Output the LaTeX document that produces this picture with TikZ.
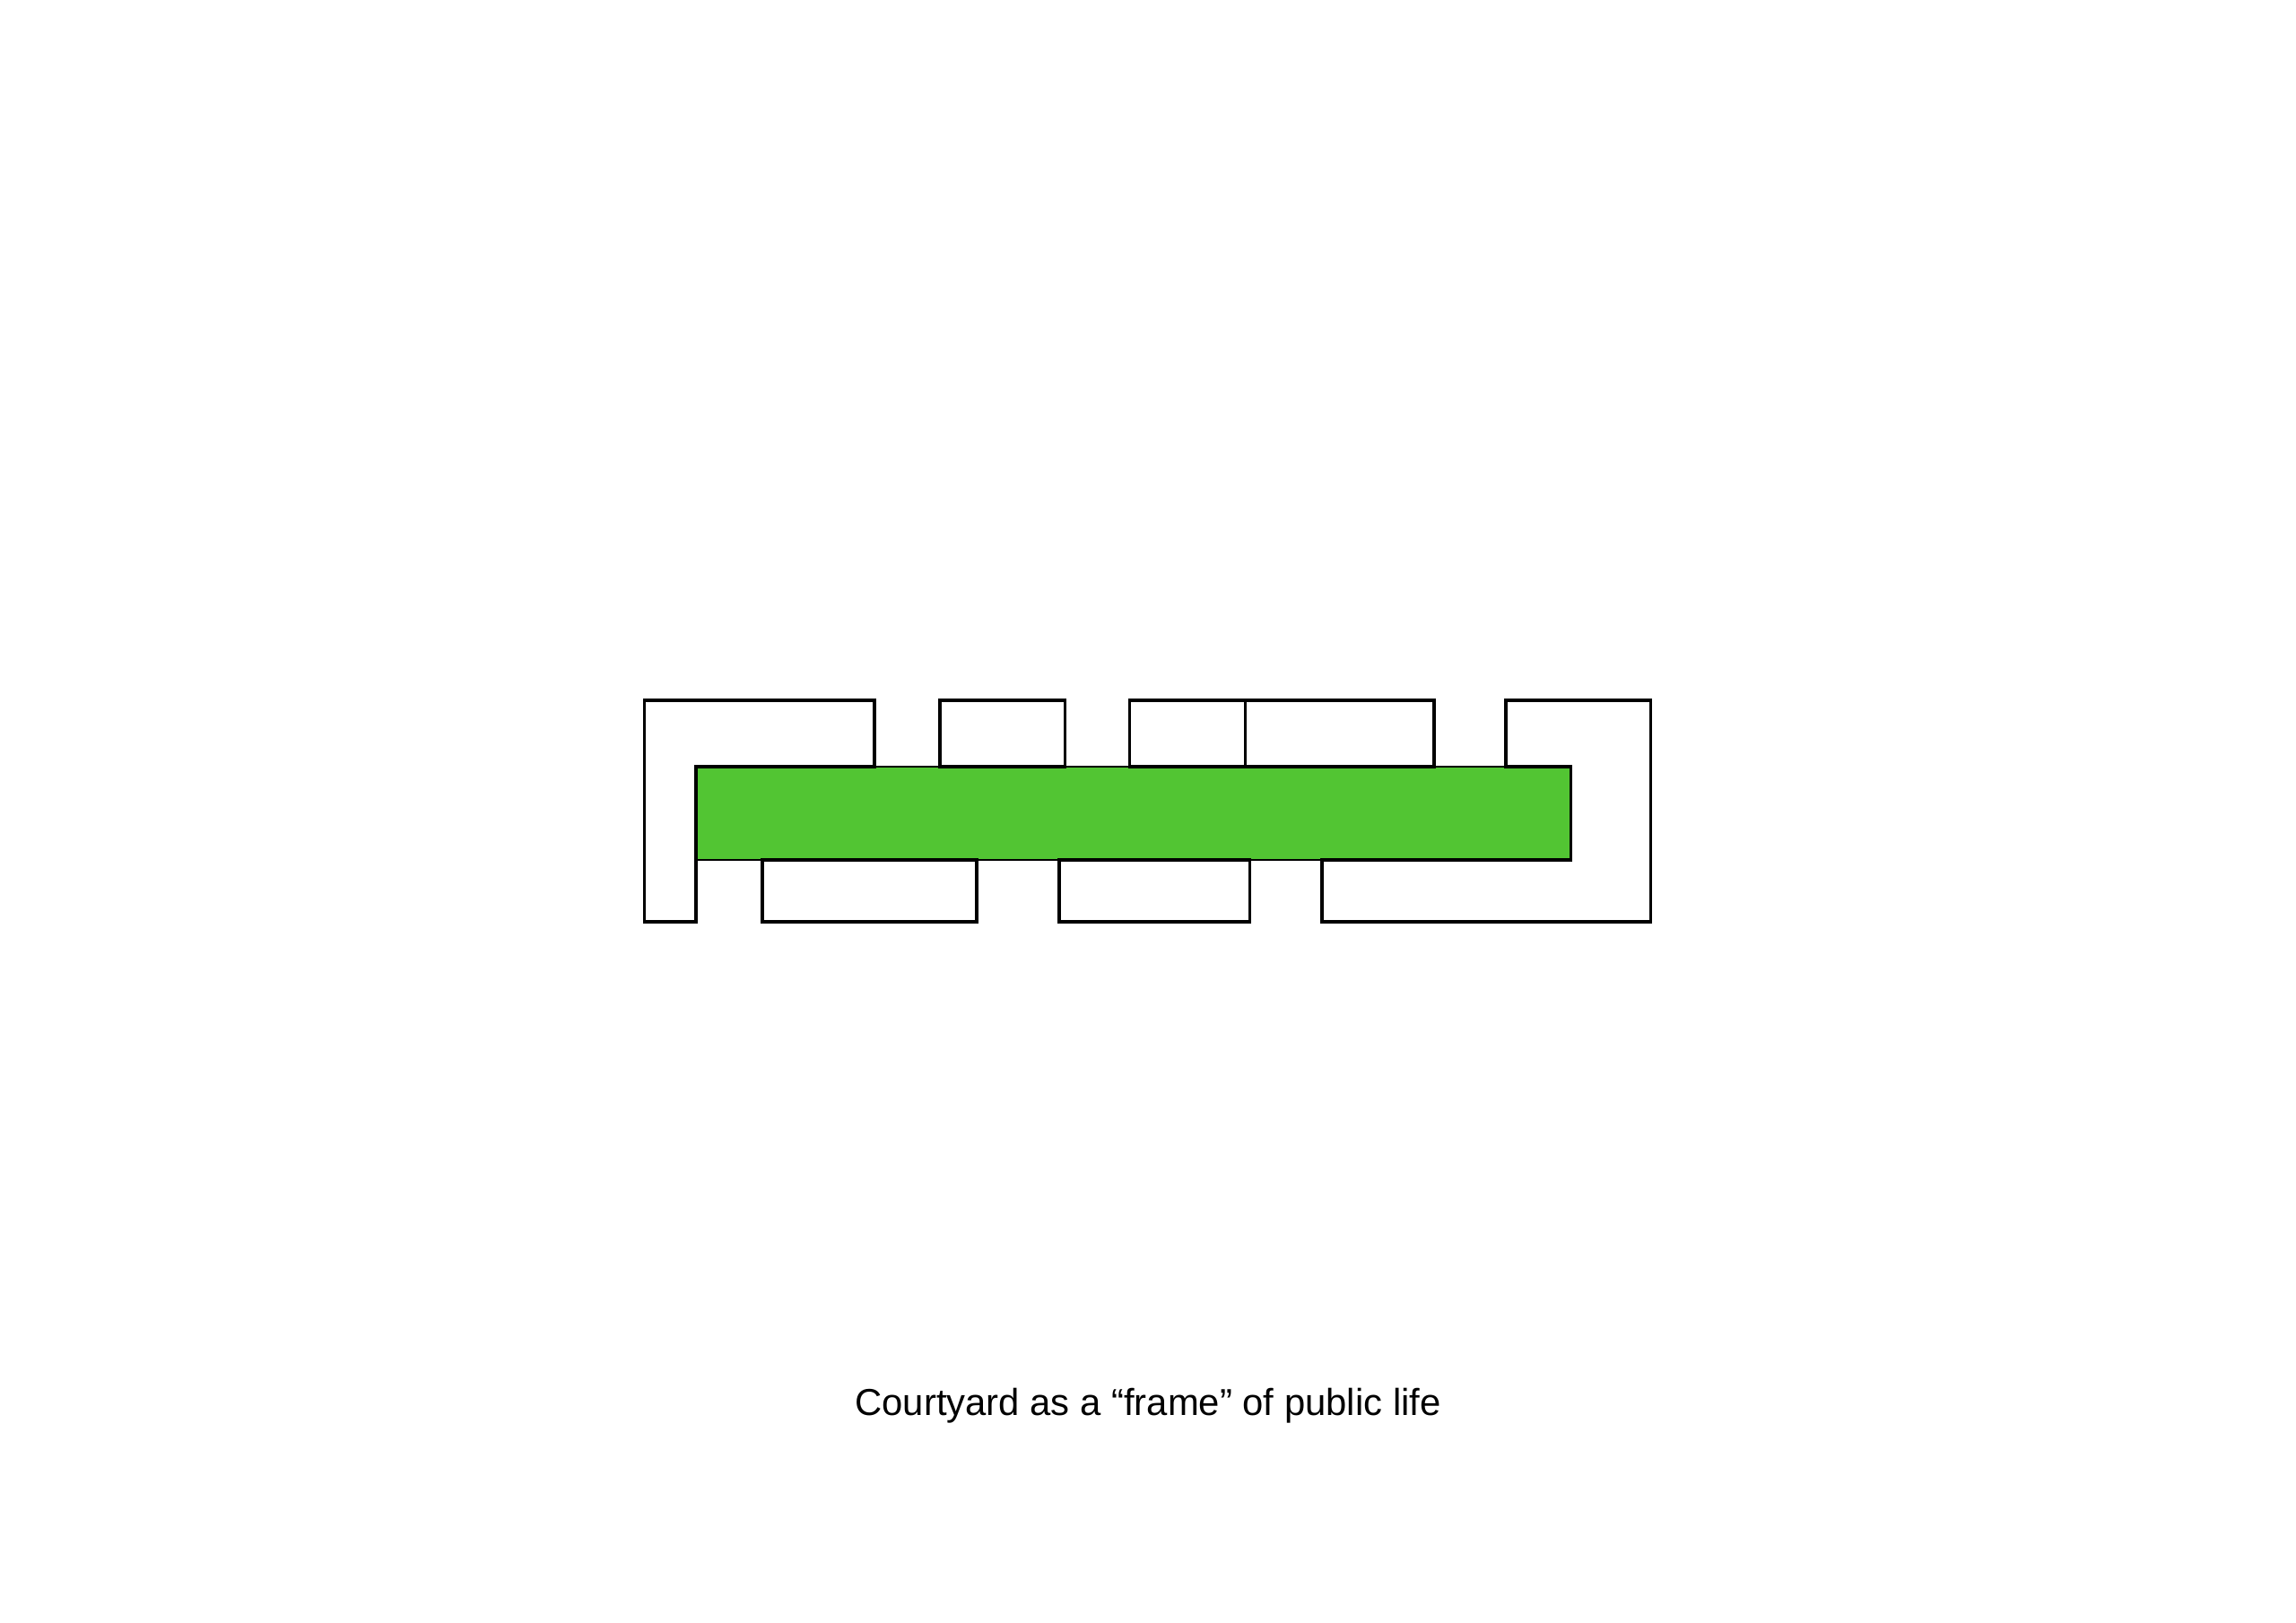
\documentclass[tikz,border=0pt]{standalone}
\usepackage{fontspec}
\setmainfont{Liberation Sans}
\definecolor{courtgreen}{RGB}{82,197,51}

\begin{document}
\begin{tikzpicture}[
        block/.style={draw=black,line width=1pt,line join=miter},
        court/.style={fill=courtgreen,draw=black,line width=0.3pt}]
        \useasboundingbox (0,0) rectangle (25.6,18.1);
        % courtyard
        \draw[court] (7.758,8.51) rectangle (17.513,9.55);
        % buildings above
        \draw[block] (7.184,10.29) -- (9.75,10.29) -- (9.75,9.55) -- (7.758,9.55) -- (7.758,7.82) -- (7.184,7.82) -- cycle;
        \draw[block] (10.48,9.55) rectangle (11.875,10.29);
        \draw[block] (12.595,9.55) rectangle (13.885,10.29);
        \draw[block] (13.885,9.55) rectangle (15.99,10.29);
        \draw[block] (16.79,10.29) -- (18.405,10.29) -- (18.405,7.82) -- (14.739,7.82) -- (14.739,8.51) -- (17.513,8.51) -- (17.513,9.55) -- (16.79,9.55) -- cycle;
        % buildings below
        \draw[block] (8.50,7.82) rectangle (10.888,8.51);
        \draw[block] (11.81,7.82) rectangle (13.935,8.51);
        \node[anchor=base,font=\fontsize{11.9}{14}\selectfont] (caption) at (12.8,2.31) {Courtyard as a “frame” of public life};
    \end{tikzpicture}
\end{document}
